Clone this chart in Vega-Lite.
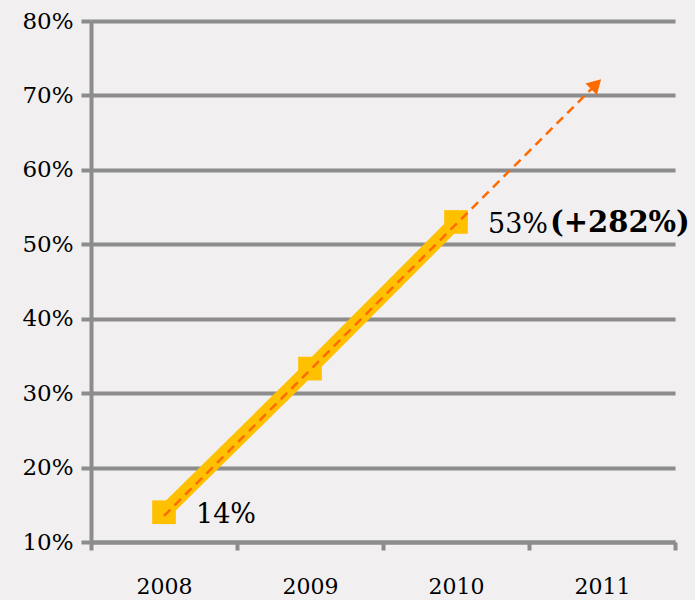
{
  "$schema": "https://vega.github.io/schema/vega-lite/v6.json",
  "width": 584,
  "height": 521,
  "autosize": {"type": "none"},
  "padding": {"left": 91, "top": 21, "right": 20, "bottom": 58},
  "background": "#f1eff0",
  "config": {"view": {"stroke": null}, "font": "DejaVu Serif"},
  "datasets": {
    "series": [
      {"year": 2008, "share": 14, "label": "14%"},
      {"year": 2009, "share": 33.3, "label": ""},
      {"year": 2010, "share": 53, "label": "53%", "extra": "(+282%)"}
    ],
    "trend": [
      {"year": 2008, "share": 13.5},
      {"year": 2010.96, "share": 71.5}
    ],
    "arrowhead": [
      {"year": 2010.96, "share": 71.5}
    ]
  },
  "encoding": {
    "x": {
      "field": "year",
      "type": "quantitative",
      "scale": {"domain": [2007.5, 2011.5], "nice": false, "zero": false},
      "axis": {
        "title": null,
        "values": [2007.5, 2008, 2008.5, 2009, 2009.5, 2010, 2010.5, 2011, 2011.5],
        "labelExpr": "datum.value % 1 === 0 ? format(datum.value, 'd') : ''",
        "tickOpacity": {"condition": {"test": "datum.value % 1 === 0", "value": 0}, "value": 1},
        "grid": false,
        "domainColor": "#8c8c8c",
        "domainWidth": 4,
        "tickColor": "#8c8c8c",
        "tickWidth": 4,
        "tickSize": 8,
        "labelFontSize": 22,
        "labelColor": "#000000",
        "labelPadding": 26,
        "labelFlush": false,
        "labelOverlap": false
      }
    },
    "y": {
      "field": "share",
      "type": "quantitative",
      "scale": {"domain": [10, 80], "nice": false, "zero": false},
      "axis": {
        "title": null,
        "values": [10, 20, 30, 40, 50, 60, 70, 80],
        "labelExpr": "datum.value + '%'",
        "grid": true,
        "gridColor": "#8c8c8c",
        "gridWidth": 4,
        "gridOpacity": 1,
        "domainColor": "#8c8c8c",
        "domainWidth": 4,
        "tickColor": "#8c8c8c",
        "tickWidth": 4,
        "tickSize": 10,
        "labelFontSize": 23,
        "labelColor": "#000000",
        "labelPadding": 8,
        "labelFlush": false,
        "labelOverlap": false
      }
    }
  },
  "layer": [
    {
      "data": {"name": "series"},
      "mark": {"type": "line", "color": "#ffc000", "strokeWidth": 14, "strokeCap": "butt"}
    },
    {
      "data": {"name": "series"},
      "mark": {"type": "point", "shape": "square", "filled": true, "color": "#ffc000", "opacity": 1, "size": 560}
    },
    {
      "data": {"name": "trend"},
      "mark": {"type": "line", "color": "#ff6a00", "strokeWidth": 2.5, "strokeDash": [9, 6]}
    },
    {
      "data": {"name": "arrowhead"},
      "mark": {"type": "point", "shape": "triangle-up", "angle": 45, "filled": true, "color": "#ff6a00", "opacity": 1, "size": 260}
    },
    {
      "data": {"name": "series"},
      "mark": {"type": "text", "align": "left", "baseline": "middle", "dx": 32, "dy": 3, "fontSize": 27, "color": "#000000"},
      "encoding": {"text": {"field": "label"}}
    },
    {
      "data": {"name": "series"},
      "transform": [{"filter": "datum.extra"}],
      "mark": {"type": "text", "align": "left", "baseline": "middle", "dx": 94, "dy": 1, "fontSize": 29, "fontWeight": "bold", "color": "#000000"},
      "encoding": {"text": {"field": "extra"}}
    }
  ]
}
